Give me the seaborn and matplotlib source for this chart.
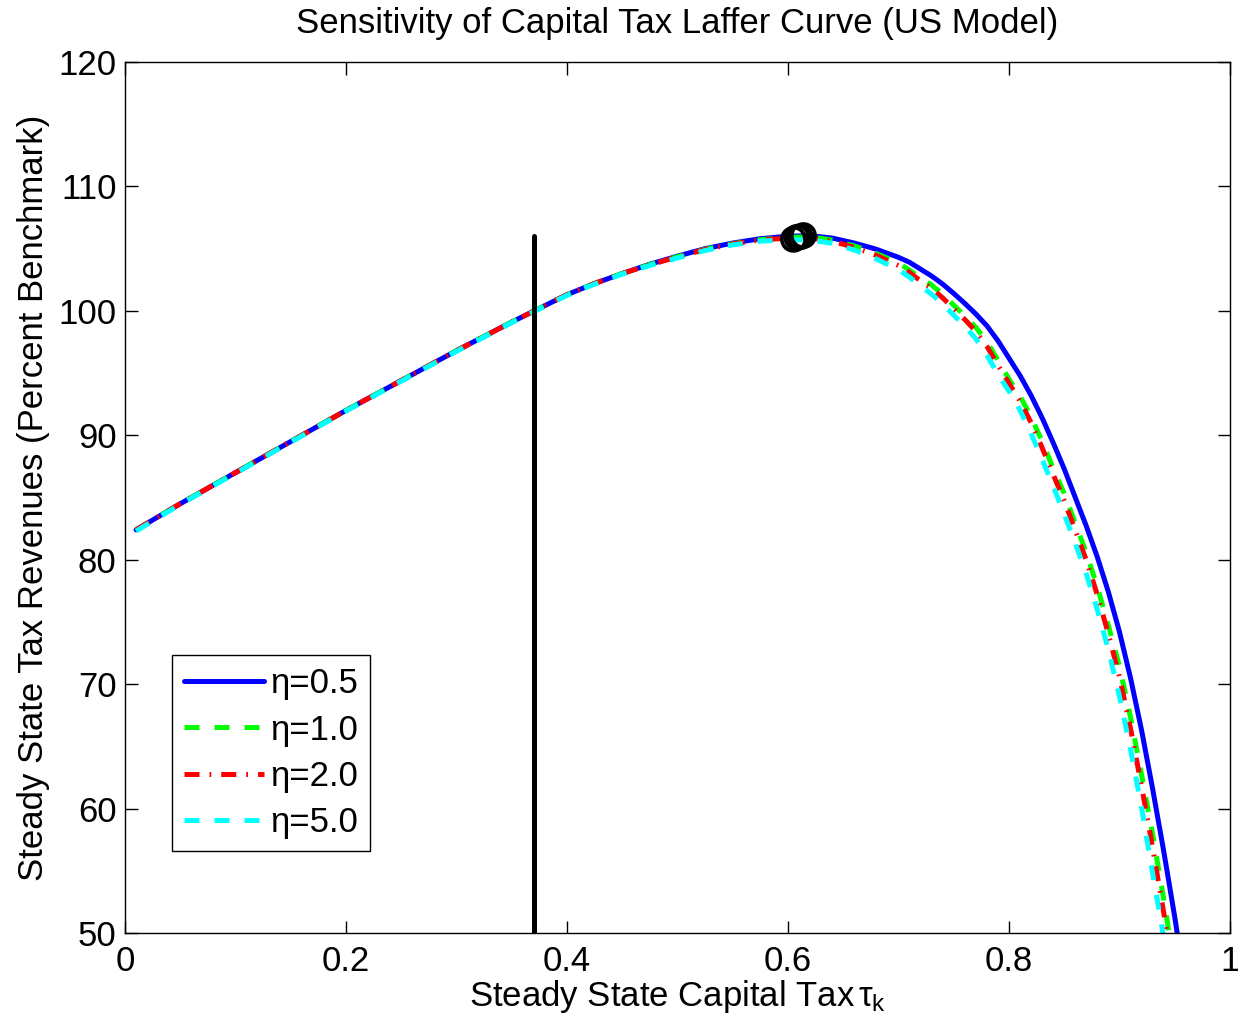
import matplotlib
matplotlib.use("Agg")
import matplotlib.pyplot as plt
import seaborn as sns
import pandas as pd

# ---- data ----
tax = [0.01, 0.05, 0.10, 0.15, 0.20, 0.25, 0.30, 0.35, 0.40, 0.425, 0.45, 0.475,
       0.50, 0.525, 0.55, 0.575, 0.60, 0.62, 0.64, 0.66, 0.68,
       0.70, 0.71, 0.72, 0.73, 0.74, 0.75, 0.76, 0.77, 0.78, 0.79,
       0.80, 0.81, 0.82, 0.83, 0.84, 0.85, 0.86, 0.87, 0.88, 0.89,
       0.90, 0.91, 0.92, 0.93, 0.94, 0.95, 0.96]

rev_eta05 = [82.4, 84.5, 87.0, 89.5, 92.0, 94.4, 96.8, 99.1, 101.3, 102.2, 103.0, 103.75,
             104.4, 105.0, 105.45, 105.8, 106.0, 106.05, 105.85, 105.45, 104.95,
             104.3, 103.9, 103.35, 102.8, 102.15, 101.4, 100.6, 99.75, 98.8, 97.6,
             96.2, 94.8, 93.2, 91.4, 89.4, 87.3, 85.0, 82.7, 80.2, 77.4,
             74.2, 70.5, 66.3, 61.6, 56.6, 51.3, 45.5]
rev_eta10 = [82.4, 84.5, 87.0, 89.5, 92.0, 94.4, 96.8, 99.1, 101.3, 102.2, 103.0, 103.72,
             104.35, 104.95, 105.4, 105.72, 105.9, 105.95, 105.69, 105.22, 104.61,
             103.83, 103.28, 102.64, 102.08, 101.31, 100.46, 99.6, 98.67, 97.52, 96.04,
             94.52, 93.15, 91.5, 89.5, 87.35, 85.32, 82.93, 80.54, 77.81, 74.7,
             71.44, 67.34, 62.74, 57.96, 52.74, 47.14, 41.15]
rev_eta20 = [82.4, 84.5, 87.0, 89.5, 92.0, 94.4, 96.8, 99.1, 101.3, 102.2, 103.0, 103.7,
             104.33, 104.93, 105.38, 105.7, 105.84, 105.86, 105.6, 105.1, 104.46,
             103.64, 103.08, 102.41, 101.82, 101.04, 100.18, 99.31, 98.35, 97.15, 95.64,
             94.18, 92.75, 91.02, 89.0, 86.85, 84.74, 82.37, 79.95, 77.16, 74.02,
             70.59, 66.44, 61.81, 56.86, 51.66, 45.97, 40.03]
rev_eta50 = [82.3, 84.45, 86.95, 89.45, 91.95, 94.35, 96.75, 99.05, 101.25, 102.15, 102.95, 103.65,
             104.25, 104.85, 105.3, 105.6, 105.72, 105.7, 105.43, 104.89, 104.17,
             103.3, 102.71, 101.99, 101.34, 100.53, 99.66, 98.76, 97.76, 96.45, 94.9,
             93.54, 92.02, 90.14, 88.07, 85.91, 83.67, 81.32, 78.86, 75.96, 72.75,
             69.02, 64.77, 60.07, 54.81, 49.65, 43.81, 37.96]

labels = ["η=0.5", "η=1.0", "η=2.0", "η=5.0"]
colors = ["#0000ff", "#00ff00", "#ff0000", "#00ffff"]
series = [rev_eta05, rev_eta10, rev_eta20, rev_eta50]

peak_x = [0.614, 0.611, 0.608, 0.605]
peak_y = [106.05, 105.95, 105.9, 105.75]

benchmark_tax = 0.37
benchmark_top = 106.0

title = "Sensitivity of Capital Tax Laffer Curve (US Model)"
xlabel = "Steady State Capital Tax$\\,\\tau_{\\mathrm{k}}$"
ylabel = "Steady State Tax Revenues (Percent Benchmark)"
xticks = [0, 0.2, 0.4, 0.6, 0.8, 1.0]
xticklabels = ["0", "0.2", "0.4", "0.6", "0.8", "1"]
yticks = [50, 60, 70, 80, 90, 100, 110, 120]

# ---- style ----
sns.set_style("white")
plt.rcParams["font.family"] = ["Liberation Sans", "DejaVu Sans"]
plt.rcParams["mathtext.fontset"] = "custom"
plt.rcParams["mathtext.rm"] = "Liberation Sans"
plt.rcParams["mathtext.it"] = "Liberation Sans"
plt.rcParams["text.color"] = "black"
plt.rcParams["axes.labelcolor"] = "black"
plt.rcParams["xtick.color"] = "black"
plt.rcParams["ytick.color"] = "black"

FS = 25

fig = plt.figure(figsize=(12.38, 10.30), dpi=100)
ax = fig.add_axes([0.101, 0.0942, 0.8925, 0.8456])

styles = ["-", (0, (3, 3)), (0, (3, 2, 0.35, 2)), (0, (3, 3))]
handles = []
for vals, lab, col, ls in zip(series, labels, colors, styles):
    df = pd.DataFrame({"tax": tax, "rev": vals})
    sns.lineplot(data=df, x="tax", y="rev", color=col, linewidth=3.6,
                 linestyle=ls, ax=ax, sort=False, estimator=None)
    handles.append(ax.lines[-1])
    ax.lines[-1].set_label(lab)

# peak markers
pk = pd.DataFrame({"x": peak_x, "y": peak_y})
sns.scatterplot(data=pk, x="x", y="y", ax=ax, marker="o", s=280,
                facecolors="none", edgecolors="black", linewidths=2.6, zorder=5)

# benchmark vertical line
ax.plot([benchmark_tax, benchmark_tax], [50, benchmark_top], color="black", linewidth=3.6)

ax.set_xlim(0, 1)
ax.set_ylim(50, 120)
ax.set_xticks(xticks)
ax.set_xticklabels(xticklabels)
ax.set_yticks(yticks)
ax.tick_params(direction="in", length=9, width=1, labelsize=FS,
               top=True, right=True, bottom=True, left=True,
               colors="black", labelcolor="black")
ax.tick_params(axis="x", pad=9)
ax.tick_params(axis="y", pad=6)
for sp in ax.spines.values():
    sp.set_visible(True)
    sp.set_color("black")
    sp.set_linewidth(1.0)

ax.set_title(title, fontsize=FS, pad=21, color="black")
ax.set_xlabel(xlabel, fontsize=FS, labelpad=0, color="black")
ax.set_ylabel(ylabel, fontsize=FS, labelpad=6, color="black")

leg = ax.legend(handles=handles, labels=labels, loc="lower left",
                bbox_to_anchor=(0.0425, 0.094), fontsize=FS, frameon=True,
                fancybox=False, framealpha=1, edgecolor="black",
                handlelength=2.3, handletextpad=0.17, borderpad=0.35,
                labelspacing=0.38, borderaxespad=0, labelcolor="black")
leg.get_frame().set_linewidth(1.0)

fig.savefig("out.png", dpi=100)
